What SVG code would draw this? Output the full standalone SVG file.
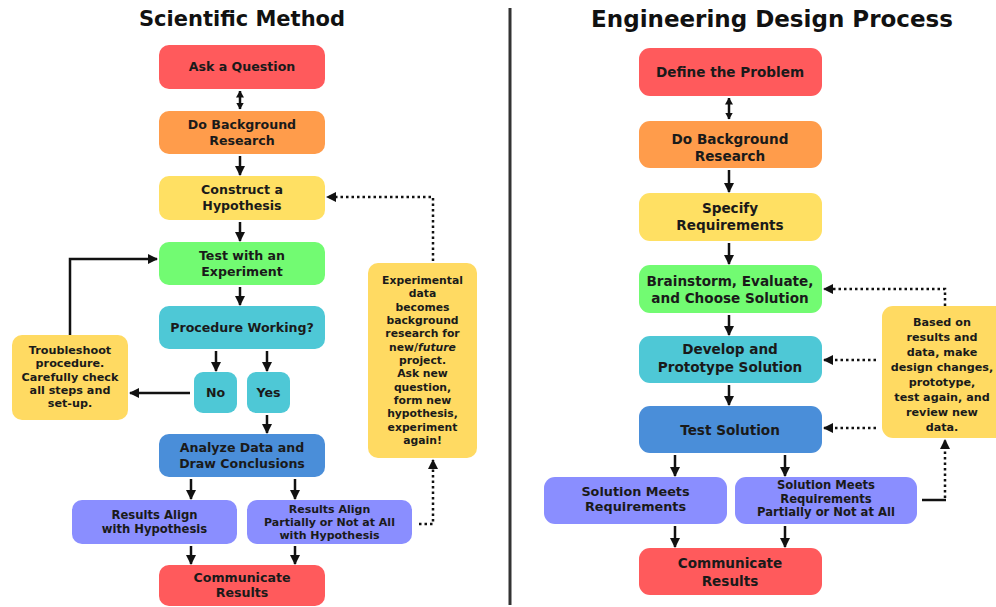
<svg xmlns="http://www.w3.org/2000/svg" width="996" height="607" viewBox="0 0 996 607">
<defs>
<marker id="ah" markerUnits="userSpaceOnUse" markerWidth="10" markerHeight="10" viewBox="0 0 10 10" refX="9" refY="5" orient="auto-start-reverse">
<path d="M0,0 L10,5 L0,10 z" fill="#111"/>
</marker>
<marker id="sh" markerUnits="userSpaceOnUse" markerWidth="7" markerHeight="8" viewBox="0 0 7 8" refX="6.5" refY="4" orient="auto-start-reverse">
<path d="M0,0 L7,4 L0,8 z" fill="#111"/>
</marker>
<style>
.t{font-family:"DejaVu Sans",Verdana,sans-serif;font-weight:bold;fill:#1a1a1a;text-anchor:middle}
.title{font-size:21px;fill:#111}
.s{font-size:12.6px}
.r{font-size:13.6px}
.q{font-size:12.8px}
.q3{font-size:11.6px}
.a{font-size:11.6px}
.a3{font-size:11px}
.n{font-size:10.8px}
.m{font-size:11.2px}
.red{fill:#ff5a5c}.org{fill:#ff9c4b}.yel{fill:#ffe063}.grn{fill:#72fb72}.teal{fill:#4ec8d6}.blu{fill:#4a8ed9}.lav{fill:#8a8eff}.note{fill:#ffda62}
.c{fill:none;stroke:#111;stroke-width:2.5}
.d{fill:none;stroke:#111;stroke-width:2.5;stroke-dasharray:2.5 3}
</style>
</defs>
<rect width="996" height="607" fill="#ffffff"/>
<line x1="510" y1="8" x2="510" y2="605" stroke="#333" stroke-width="3"/>
<text class="t title" x="242" y="26">Scientific Method</text>
<text class="t title" x="772" y="27" style="font-size:23px">Engineering Design Process</text>

<g id="sm-ask"><rect class="red" x="159" y="45" width="166" height="44" rx="10"/><text class="t s" x="242" y="71">Ask a Question</text></g>
<g id="sm-research"><rect class="org" x="159" y="111" width="166" height="43" rx="10"/><text class="t s" x="242" y="129">Do Background</text><text class="t s" x="242" y="145">Research</text></g>
<g id="sm-hypothesis"><rect class="yel" x="159" y="176" width="166" height="44" rx="10"/><text class="t s" x="242" y="194">Construct a</text><text class="t s" x="242" y="210">Hypothesis</text></g>
<g id="sm-test"><rect class="grn" x="159" y="242" width="166" height="43" rx="10"/><text class="t s" x="242" y="260">Test with an</text><text class="t s" x="242" y="276">Experiment</text></g>
<g id="sm-procedure"><rect class="teal" x="159" y="306" width="166" height="43" rx="10"/><text class="t s" x="242" y="332">Procedure Working?</text></g>
<g id="sm-no"><rect class="teal" x="194" y="372" width="43" height="41" rx="9"/><text class="t s" x="215.5" y="397">No</text></g>
<g id="sm-yes"><rect class="teal" x="247" y="372" width="43" height="41" rx="9"/><text class="t s" x="268.5" y="397">Yes</text></g>
<g id="sm-troubleshoot"><rect class="note" x="12" y="335" width="116" height="85" rx="10"/>
<text class="t m" x="70" y="354">Troubleshoot</text><text class="t m" x="70" y="367">procedure.</text><text class="t m" x="70" y="381">Carefully check</text><text class="t m" x="70" y="394">all steps and</text><text class="t m" x="70" y="407">set-up.</text></g>
<g id="sm-analyze"><rect class="blu" x="159" y="434" width="166" height="43" rx="10"/><text class="t s" x="242" y="452">Analyze Data and</text><text class="t s" x="242" y="468">Draw Conclusions</text></g>
<g id="sm-align"><rect class="lav" x="72" y="500" width="165" height="44" rx="10"/><text class="t a" x="154.5" y="519">Results Align</text><text class="t a" x="154.5" y="533">with Hypothesis</text></g>
<g id="sm-partial"><rect class="lav" x="247" y="500" width="165" height="44" rx="10"/><text class="t a3" x="329.5" y="513">Results Align</text><text class="t a3" x="329.5" y="526">Partially or Not at All</text><text class="t a3" x="329.5" y="539">with Hypothesis</text></g>
<g id="sm-communicate"><rect class="red" x="159" y="565" width="166" height="41" rx="10"/><text class="t s" x="242" y="582">Communicate</text><text class="t s" x="242" y="597">Results</text></g>
<g id="sm-note"><rect class="note" x="368" y="263" width="109" height="195" rx="10"/>
<text class="t n" x="422.5" y="284">Experimental</text>
<text class="t n" x="422.5" y="297.3">data</text>
<text class="t n" x="422.5" y="310.7">becomes</text>
<text class="t n" x="422.5" y="324">background</text>
<text class="t n" x="422.5" y="337.3">research for</text>
<text class="t n" x="422.5" y="350.7">new/<tspan font-style="italic">future</tspan></text>
<text class="t n" x="422.5" y="364">project.</text>
<text class="t n" x="422.5" y="377.3">Ask new</text>
<text class="t n" x="422.5" y="390.7">question,</text>
<text class="t n" x="422.5" y="404">form new</text>
<text class="t n" x="422.5" y="417.3">hypothesis,</text>
<text class="t n" x="422.5" y="430.7">experiment</text>
<text class="t n" x="422.5" y="444">again!</text></g>

<g id="ed-define"><rect class="red" x="639" y="48" width="183" height="48" rx="11"/><text class="t r" x="730" y="77">Define the Problem</text></g>
<g id="ed-research"><rect class="org" x="639" y="121" width="183" height="47" rx="11"/><text class="t r" x="730" y="144">Do Background</text><text class="t r" x="730" y="161">Research</text></g>
<g id="ed-specify"><rect class="yel" x="639" y="193" width="183" height="48" rx="11"/><text class="t r" x="730" y="213">Specify</text><text class="t r" x="730" y="230">Requirements</text></g>
<g id="ed-brainstorm"><rect class="grn" x="639" y="265" width="183" height="48" rx="11"/><text class="t r" x="730" y="286">Brainstorm, Evaluate,</text><text class="t r" x="730" y="303">and Choose Solution</text></g>
<g id="ed-develop"><rect class="teal" x="639" y="336" width="183" height="47" rx="11"/><text class="t r" x="730" y="354">Develop and</text><text class="t r" x="730" y="372">Prototype Solution</text></g>
<g id="ed-test"><rect class="blu" x="639" y="406" width="183" height="47" rx="11"/><text class="t r" x="730" y="435">Test Solution</text></g>
<g id="ed-meets"><rect class="lav" x="544" y="477" width="183" height="47" rx="11"/><text class="t q" x="635.5" y="496">Solution Meets</text><text class="t q" x="635.5" y="511">Requirements</text></g>
<g id="ed-partial"><rect class="lav" x="735" y="477" width="182" height="47" rx="11"/><text class="t q3" x="826" y="489">Solution Meets</text><text class="t q3" x="826" y="502.6">Requirements</text><text class="t q3" x="826" y="516.2">Partially or Not at All</text></g>
<g id="ed-communicate"><rect class="red" x="639" y="548" width="183" height="47" rx="11"/><text class="t r" x="730" y="568">Communicate</text><text class="t r" x="730" y="586">Results</text></g>
<g id="ed-note"><rect class="note" x="882" y="306" width="130" height="132" rx="11"/>
<text class="t m" x="942" y="326">Based on</text>
<text class="t m" x="942" y="341">results and</text>
<text class="t m" x="942" y="356">data, make</text>
<text class="t m" x="942" y="371">design changes,</text>
<text class="t m" x="942" y="386">prototype,</text>
<text class="t m" x="942" y="401">test again, and</text>
<text class="t m" x="942" y="416">review new</text>
<text class="t m" x="942" y="431">data.</text></g>

<g id="connectors">
<line class="c" x1="240" y1="91" x2="240" y2="109" marker-start="url(#sh)" marker-end="url(#sh)"/>
<line class="c" x1="240" y1="156" x2="240" y2="175" marker-end="url(#ah)"/>
<line class="c" x1="240" y1="222" x2="240" y2="241" marker-end="url(#ah)"/>
<line class="c" x1="240" y1="287" x2="240" y2="305" marker-end="url(#ah)"/>
<line class="c" x1="216" y1="351" x2="216" y2="371" marker-end="url(#ah)"/>
<line class="c" x1="267" y1="351" x2="267" y2="371" marker-end="url(#ah)"/>
<line class="c" x1="190" y1="393" x2="130" y2="393" marker-end="url(#ah)"/>
<path class="c" d="M70,335 V259 H157" marker-end="url(#ah)"/>
<line class="c" x1="267" y1="415" x2="267" y2="433" marker-end="url(#ah)"/>
<line class="c" x1="191" y1="479" x2="191" y2="499" marker-end="url(#ah)"/>
<line class="c" x1="295" y1="479" x2="295" y2="499" marker-end="url(#ah)"/>
<line class="c" x1="191" y1="546" x2="191" y2="564" marker-end="url(#ah)"/>
<line class="c" x1="295" y1="546" x2="295" y2="564" marker-end="url(#ah)"/>
<path class="d" d="M419,524 H433 V460" marker-end="url(#ah)"/>
<path class="d" d="M433,261 V197 H327" marker-end="url(#ah)"/>

<line class="c" x1="729" y1="98" x2="729" y2="119" marker-start="url(#sh)" marker-end="url(#sh)"/>
<line class="c" x1="729" y1="170" x2="729" y2="192" marker-end="url(#ah)"/>
<line class="c" x1="729" y1="243" x2="729" y2="264" marker-end="url(#ah)"/>
<line class="c" x1="729" y1="315" x2="729" y2="335" marker-end="url(#ah)"/>
<line class="c" x1="729" y1="385" x2="729" y2="405" marker-end="url(#ah)"/>
<line class="c" x1="675" y1="455" x2="675" y2="476" marker-end="url(#ah)"/>
<line class="c" x1="785" y1="455" x2="785" y2="476" marker-end="url(#ah)"/>
<line class="c" x1="675" y1="526" x2="675" y2="547" marker-end="url(#ah)"/>
<line class="c" x1="785" y1="526" x2="785" y2="547" marker-end="url(#ah)"/>
<line class="c" x1="922" y1="500" x2="946" y2="500"/>
<path class="d" d="M945,498 V440" marker-end="url(#ah)"/>
<path class="d" d="M945,306 V289 H824" marker-end="url(#ah)"/>
<line class="d" x1="876" y1="360" x2="824" y2="360" marker-end="url(#ah)"/>
<line class="d" x1="876" y1="428" x2="824" y2="428" marker-end="url(#ah)"/>
</g>
</svg>
